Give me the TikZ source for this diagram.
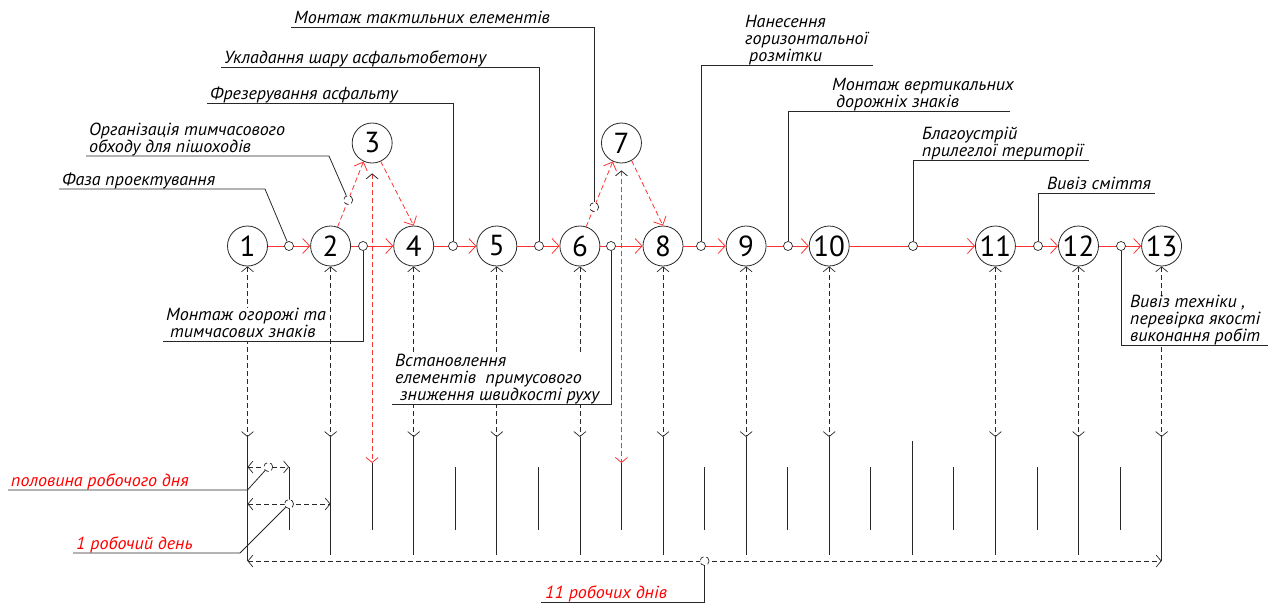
\documentclass[tikz,border=0pt]{standalone}
\usepackage{fontspec}
\setmainfont{PT Sans}
\newfontfamily\lblfam{PT Sans}[FakeStretch=1.03]
\usetikzlibrary{arrows.meta}
\definecolor{ln}{RGB}{40,40,40}
\definecolor{rl}{RGB}{255,50,50}
\definecolor{rt}{RGB}{255,0,0}
\newcommand{\lblfont}{\lblfam\fontsize{17.5}{17}\selectfont\itshape}
\begin{document}
\begin{tikzpicture}[x=1pt,y=-1pt,
  main/.style={circle,draw=ln,fill=white,line width=0.8pt,minimum size=40pt,inner sep=0pt,font=\fontsize{29}{29}\selectfont},
  dot/.style={circle,draw=ln,fill=white,line width=0.7pt,minimum size=9pt,inner sep=0pt},
  flow/.style={draw=rl,line width=0.8pt,-{Straight Barb[length=7pt,width=15pt]}},
  rflow/.style={draw=rl,line width=0.8pt,dash pattern=on 5pt off 3pt,-{Straight Barb[length=7pt,width=14pt]}},
  rdash/.style={draw=rl,line width=0.8pt,dash pattern=on 5pt off 3pt},
  bdash/.style={draw=ln,line width=0.7pt,dash pattern=on 5pt off 3pt},
  vline/.style={draw=ln,line width=0.8pt},
  lead/.style={draw=ln,line width=0.8pt},
  lbl/.style={font=\lblfont,align=left,inner sep=0pt,anchor=south west,fill=white,text=black},
  rlbl/.style={font=\lblfont,inner sep=0pt,anchor=south west,text=rt},
  tips/.style={{Straight Barb[length=5pt,width=12pt]}-{Straight Barb[length=5pt,width=12pt]}},
]
\useasboundingbox (0,0) rectangle (1281,608);

% main nodes
\node[main] (n1) at (247.5,246) {1};
\node[main] (n2) at (330.6,246) {2};
\node[main] (n3) at (372.15,143) {3};
\node[main] (n4) at (413.7,246) {4};
\node[main] (n5) at (496.8,246) {5};
\node[main] (n6) at (579.9,246) {6};
\node[main] (n7) at (621.45,143) {7};
\node[main] (n8) at (663.0,246) {8};
\node[main] (n9) at (746.1,246) {9};
\node[main] (n10) at (829.2,246) {10};
\node[main] (n11) at (995.4,246) {11};
\node[main] (n12) at (1078.5,246) {12};
\node[main] (n13) at (1161.6,246) {13};

% columns under main nodes
\foreach \n in {1,2,4,5,6,8,9,10,11,12,13}{
  \draw[bdash,tips] (n\n.south) -- (n\n.south |- 0,437) coordinate (a\n);
  \draw[vline] (a\n) -- (n\n.south |- 0,555);
}
\draw[vline] (n1.south |- 0,555) -- (n1.south |- 0,561);
\draw[vline] (n13.south |- 0,555) -- (n13.south |- 0,561);

% red columns under 3 and 7
\draw[rdash,{Straight Barb[length=5pt,width=12pt,color=ln]}-{Straight Barb[length=5pt,width=12pt]}] ([yshift=-10pt]n3.south) -- (n3.south |- 0,463) coordinate (a3);
\draw[vline] (a3) -- (n3.south |- 0,530);
\draw[rdash,{Straight Barb[length=5pt,width=12pt,color=ln]}-{Straight Barb[length=5pt,width=12pt]}] ([yshift=-7pt]n7.south) -- (n7.south |- 0,463) coordinate (a7);
\draw[vline] (a7) -- (n7.south |- 0,530);

% half-day ticks
\foreach \x in {289.05,455.25,538.35,704.55,787.65,870.75,953.85,1036.95,1120.05}{
  \draw[vline] (\x,467) -- (\x,530);
}
\draw[vline] (912.3,441) -- (912.3,555);

% flows
\draw[flow] (n1) -- (n2);
\draw[flow] (n2) -- (n4);
\draw[flow] (n4) -- (n5);
\draw[flow] (n5) -- (n6);
\draw[flow] (n6) -- (n8);
\draw[flow] (n8) -- (n9);
\draw[flow] (n9) -- (n10);
\draw[flow] (n10) -- (n11);
\draw[flow] (n11) -- (n12);
\draw[flow] (n12) -- (n13);
\draw[rflow] (n2.70) -- (n3.245) node[dot,pos=0.41] (c23) {};
\draw[rflow] (n3.295) -- (n4.north);
\draw[rflow] (n6.72) -- (n7.245) node[dot,pos=0.3] (c67) {};
\draw[rflow] (n7.300) -- (n8.north);

% dots on the main line
\node[dot] (c12) at (289,246) {};
\node[dot] (c24) at (363,246) {};
\node[dot] (c45) at (453,246) {};
\node[dot] (c56) at (539,246) {};
\node[dot] (c68) at (611,246) {};
\node[dot] (c89) at (701,246) {};
\node[dot] (c910) at (788,246) {};
\node[dot] (c1011) at (913,246) {};
\node[dot] (c1112) at (1038,246) {};
\node[dot] (c1213) at (1121,246) {};

% dimension lines
\draw[bdash,tips] (n1.south |- 0,467) -- (289.05,467) node[dot,pos=0.5] (chd) {};
\draw[bdash,tips] (n1.south |- 0,504) -- (n2.south |- 0,504) node[dot,pos=0.5] (cod) {};
\draw[bdash,tips] (n1.south |- 0,561) -- (n13.south |- 0,561) node[dot,pos=0.5] (cel) {};

% labels
\node[lbl] (l1) at (62,190.5) {Фаза проектування\strut};
\node[lbl] (l2) at (89,157.5) {Організація тимчасового\\обходу для пішоходів\strut};
\node[lbl] (l3) at (210,104.5) {Фрезерування асфальту\strut};
\node[lbl] (l4) at (224,68.5) {Укладання шару асфальтобетону\strut};
\node[lbl] (l5) at (294,28.5) {Монтаж тактильних елементів\strut};
\node[lbl] (l6) at (745,66.5) {Нанесення\\горизонтальної\\\hspace{4pt}розмітки\strut};
\node[lbl] (l7) at (832,112.5) {Монтаж вертикальних\\\hspace{4pt}дорожніх знаків\strut};
\node[lbl] (l8) at (922,161.5) {Благоустрій\\прилеглої території\strut};
\node[lbl] (l9) at (1047,194.5) {Вивіз сміття\strut};
\node[lbl] (l10) at (166,342.5) {Монтаж огорожі та\\\hspace{4pt}тимчасових знаків\strut};
\node[lbl] (l11) at (395,405.5) {Встановлення\\елементів\ \ примусового\\\hspace{5pt}зниження швидкості руху\strut};
\node[lbl] (l12) at (1130,346.5) {Вивіз техніки ,\\перевірка якості\\виконання робіт\strut};
\node[rlbl] (r1) at (11,491.5) {половина робочого дня\strut};
\node[rlbl] (r2) at (76,554.5) {1 робочий день\strut};
\node[rlbl] (r3) at (545,603.5) {11 робочих днів\strut};

% leaders
\draw[lead] (c12) -- (265,189) -- (59,189);
\draw[lead] (c23) -- (329,156) -- (86,156);
\draw[lead] (c24) -- (c24 |- 0,341) -- (163,341);
\draw[lead] (c45) -- (c45 |- 0,103) -- (207,103);
\draw[lead] (c56) -- (c56 |- 0,67) -- (221,67);
\draw[lead] (c67) -- (c67 |- 0,27) -- (291,27);
\draw[lead] (c68) -- (c68 |- 0,404) -- (392,404);
\draw[lead] (c89) -- (c89 |- 0,65) -- (873,65);
\draw[lead] (c910) -- (c910 |- 0,111) -- (1010,111);
\draw[lead] (c1011) -- (c1011 |- 0,160) -- (1089,160);
\draw[lead] (c1112) -- (c1112 |- 0,193) -- (1155,193);
\draw[lead] (c1213) -- (c1213 |- 0,345) -- (1268,345);
\draw[lead] (chd) -- (247.5,490) -- (8,490);
\draw[lead] (cod) -- (240,553) -- (73,553);
\draw[lead] (cel) -- (cel |- 0,602) -- (541,602);
\end{tikzpicture}
\end{document}
